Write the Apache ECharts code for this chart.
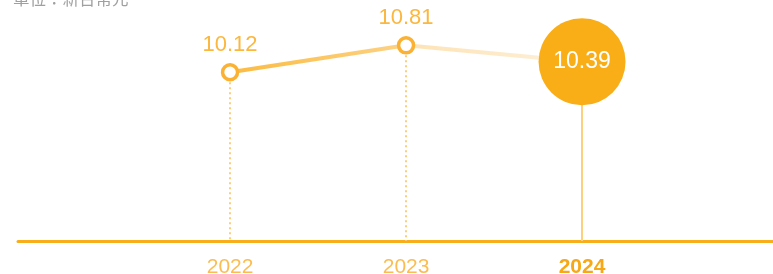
<!DOCTYPE html>
<html>
<head>
<meta charset="utf-8">
<script src="https://cdn.jsdelivr.net/npm/echarts@6/dist/echarts.min.js"></script>
<style>
  html, body { margin: 0; padding: 0; background: #fff; }
  #chart { width: 773px; height: 274px; }
</style>
</head>
<body>
<div id="chart"></div>
<script>
// 資料
const years = [2022, 2023, 2024];
const values = [10.12, 10.81, 10.39];
const unitText = '單位：新台幣元';

const Y_MIN = 5.79, Y_MAX = 11.46;
const X_MIN = 2020.795, X_MAX = 2025.085;
const FONT = '"Helvetica Neue", Arial, "Liberation Sans", "Noto Sans CJK TC", sans-serif';

const chart = echarts.init(document.getElementById('chart'));

const pts = years.map(function (y, i) { return [y, values[i]]; });
const last = pts.length - 1;

chart.setOption({
  animation: false,
  graphic: [{
    type: 'text', left: 13, top: -8,
    style: { text: unitText, fontSize: 16.5, fill: '#a0a0a0', fontFamily: FONT }
  }],
  grid: { left: 18, right: 0, top: 20, bottom: 33, outerBoundsMode: 'none', containLabel: false },
  xAxis: {
    type: 'value', min: X_MIN, max: X_MAX,
    splitLine: { show: false },
    axisLine: { show: true, lineStyle: { color: '#f8ae1b', width: 3 } },
    axisTick: { show: false },
    axisLabel: {
      customValues: years,
      margin: 16,
      fontSize: 21,
      fontFamily: FONT,
      color: '#fbbd52',
      formatter: function (v) {
        return v === years[last] ? '{b|' + v + '}' : String(v);
      },
      rich: { b: { fontSize: 21, fontWeight: 'bold', color: '#f6a816', fontFamily: FONT } }
    }
  },
  yAxis: {
    type: 'value', min: Y_MIN, max: Y_MAX, show: false
  },
  series: [{
    // 垂直參考線（畫在折線下層）
    type: 'line',
    data: [],
    z: 1,
    markLine: {
      z: 1,
      silent: true, symbol: 'none',
      label: { show: false },
      data: pts.map(function (p, i) {
        return [
          { coord: [p[0], p[1]], lineStyle: i === last
            ? { type: 'solid', color: '#fdcf80', width: 2 }
            : { type: [2, 3], color: '#fdcd7c', width: 2 } },
          { coord: [p[0], Y_MIN] }
        ];
      })
    }
  }, {
    type: 'line',
    data: pts,
    symbol: 'circle',
    symbolSize: 15,
    lineStyle: {
      width: 4,
      color: {
        type: 'linear', x: 0, y: 0, x2: 1, y2: 0,
        colorStops: [
          { offset: 0, color: '#fbbb40' },
          { offset: 0.5, color: '#fdd285' },
          { offset: 0.52, color: '#fde3b6' },
          { offset: 1, color: '#fef1dc' }
        ]
      }
    },
    itemStyle: { color: '#fff', borderColor: '#fbb133', borderWidth: 3.5 },
    label: {
      show: true, position: 'top', distance: 7,
      fontSize: 22, color: '#fbb73e', fontFamily: FONT,
      formatter: function (p) { return p.dataIndex === last ? '' : p.value[1].toFixed(2); }
    },
    z: 3
  }, {
    type: 'scatter',
    data: [pts[last]],
    symbolSize: 87,
    itemStyle: { color: '#f9ae18', opacity: 1 },
    label: {
      show: true, position: 'inside',
      fontSize: 23, color: '#fff', fontFamily: FONT,
      formatter: function (p) { return p.value[1].toFixed(2); }
    },
    z: 5
  }]
});
</script>
</body>
</html>
